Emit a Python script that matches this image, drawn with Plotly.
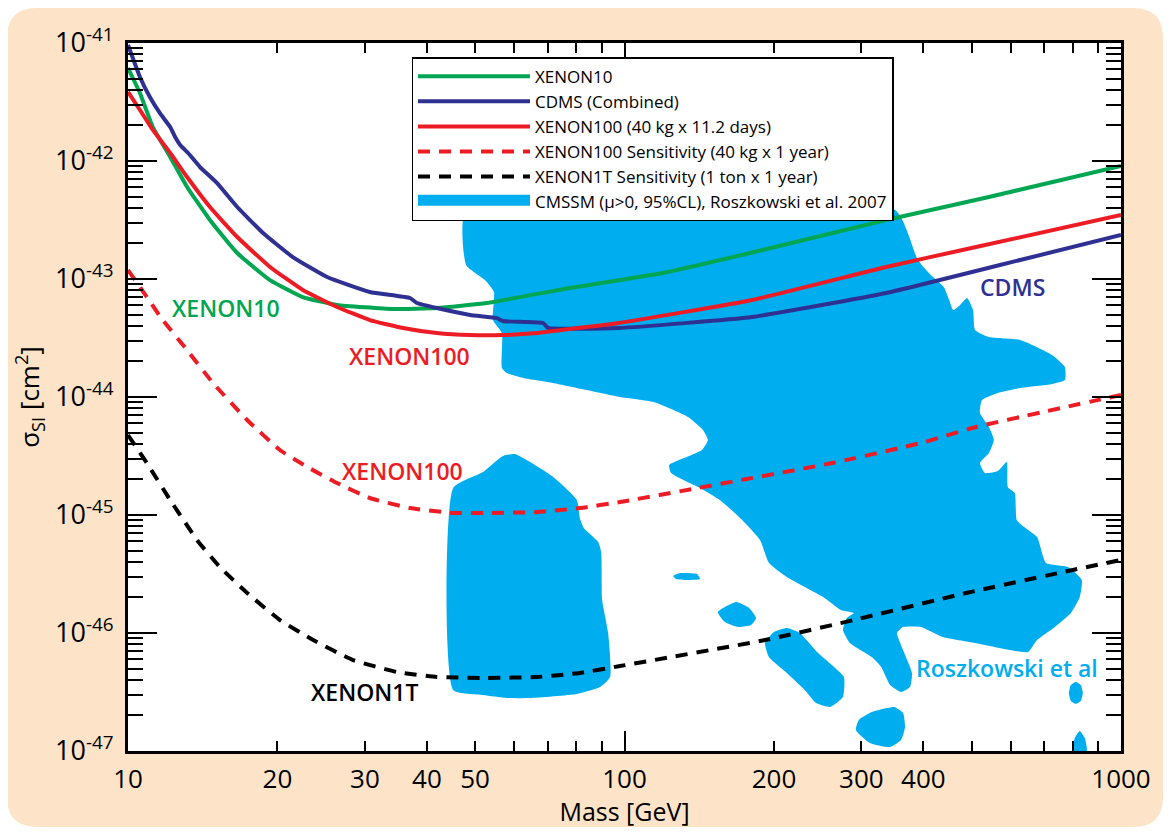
import plotly.graph_objects as go

# ---------------- data: log10(mass/GeV), log10(sigma/cm^2) ----------------
xenon10_lm = [1.000, 1.024, 1.050, 1.085, 1.119, 1.165, 1.220, 1.286, 1.352, 1.421, 1.534, 1.622,
              1.723, 1.890, 2.077, 2.253, 2.527, 2.734, 3.000]
xenon10_ls = [-41.212, -41.424, -41.712, -41.966, -42.220, -42.500, -42.780, -43.009, -43.153, -43.220,
              -43.254, -43.246, -43.203, -43.076, -42.949, -42.780, -42.500, -42.305, -42.042]

cdms_lm = [1.000, 1.024, 1.044, 1.064, 1.085, 1.095, 1.105, 1.121, 1.145, 1.179, 1.220, 1.272, 1.332,
           1.401, 1.487, 1.568, 1.582, 1.622, 1.689, 1.743, 1.755, 1.836, 1.846, 1.989, 2.257, 2.527,
           2.797, 3.000]
cdms_ls = [-41.017, -41.288, -41.458, -41.593, -41.712, -41.797, -41.864, -41.932, -42.051, -42.186,
           -42.390, -42.610, -42.814, -42.983, -43.110, -43.161, -43.203, -43.246, -43.305, -43.331,
           -43.356, -43.373, -43.415, -43.415, -43.322, -43.119, -42.839, -42.627]

xenon100_lm = [1.000, 1.024, 1.050, 1.085, 1.119, 1.165, 1.220, 1.286, 1.352, 1.421, 1.487, 1.554,
               1.622, 1.689, 1.755, 1.824, 1.890, 1.989, 2.257, 2.527, 2.708, 3.000]
xenon100_ls = [-41.415, -41.568, -41.737, -41.932, -42.136, -42.390, -42.644, -42.898, -43.093, -43.237,
               -43.348, -43.415, -43.458, -43.475, -43.475, -43.458, -43.424, -43.373, -43.178, -42.898,
               -42.729, -42.458]

x100sens_lm = [1.000, 1.038, 1.070, 1.119, 1.171, 1.240, 1.306, 1.361, 1.421, 1.487, 1.568, 1.655,
               1.723, 1.824, 1.910, 1.991, 2.148, 2.418, 2.597, 2.708, 3.000]
x100sens_ls = [-42.924, -43.153, -43.348, -43.602, -43.881, -44.195, -44.449, -44.593, -44.729, -44.856,
               -44.941, -44.983, -44.983, -44.975, -44.941, -44.890, -44.771, -44.560, -44.390, -44.254,
               -43.983]

x1t_lm = [1.000, 1.038, 1.085, 1.139, 1.185, 1.240, 1.306, 1.373, 1.453, 1.542, 1.622, 1.723, 1.824,
          1.910, 1.991, 2.283, 2.462, 2.688, 2.903, 3.000]
x1t_ls = [-44.322, -44.560, -44.873, -45.212, -45.441, -45.661, -45.890, -46.060, -46.229, -46.331,
          -46.373, -46.381, -46.373, -46.339, -46.280, -46.060, -45.890, -45.661, -45.466, -45.381]

# CMSSM (Roszkowski et al. 2007) 95% CL regions
cmssm_main_lm = [1.681, 2.545, 2.591, 2.617, 2.643, 2.654, 2.662, 2.676, 2.690, 2.702, 2.706, 2.734,
                 2.797, 2.861, 2.887, 2.887, 2.861, 2.797, 2.752, 2.720, 2.716, 2.734, 2.744, 2.734,
                 2.716, 2.726, 2.752, 2.770, 2.772, 2.786, 2.790, 2.805, 2.831, 2.849, 2.893, 2.921,
                 2.917, 2.899, 2.867, 2.831, 2.813, 2.776, 2.706, 2.641, 2.597, 2.561, 2.549, 2.579,
                 2.575, 2.557, 2.535, 2.517, 2.498, 2.454, 2.440, 2.448, 2.462, 2.436, 2.400, 2.327,
                 2.291, 2.273, 2.237, 2.192, 2.148, 2.094, 2.090, 2.120, 2.156, 2.168, 2.158, 2.128,
                 2.059, 1.991, 1.924, 1.856, 1.796, 1.763, 1.753, 1.753, 1.735, 1.737, 1.719, 1.681]
cmssm_main_ls = [-42.415, -42.415, -42.839, -42.966, -43.068, -43.178, -43.263, -43.220, -43.161,
                 -43.263, -43.432, -43.492, -43.517, -43.644, -43.746, -43.856, -43.890, -43.924,
                 -43.966, -44.026, -44.136, -44.254, -44.365, -44.475, -44.560, -44.644, -44.627,
                 -44.551, -44.763, -44.814, -45.042, -45.102, -45.187, -45.407, -45.441, -45.551,
                 -45.695, -45.831, -45.949, -46.060, -46.161, -46.144, -46.085, -46.034, -45.949,
                 -45.949, -46.000, -46.339, -46.458, -46.500, -46.441, -46.288, -46.204, -46.085,
                 -45.975, -45.873, -45.831, -45.805, -45.695, -45.525, -45.407, -45.212, -45.042,
                 -44.873, -44.763, -44.644, -44.576, -44.517, -44.449, -44.365, -44.280, -44.170,
                 -44.043, -44.000, -43.941, -43.881, -43.839, -43.797, -43.754, -43.458, -43.348,
                 -43.110, -43.009, -42.881]

cmssm_low_lm = [1.655, 1.715, 1.755, 1.779, 1.854, 1.904, 1.910, 1.918, 1.947, 1.953, 1.955, 1.967,
                1.971, 1.951, 1.904, 1.810, 1.763, 1.715, 1.655]
cmssm_low_ls = [-44.771, -44.636, -44.500, -44.483, -44.670, -44.873, -45.025, -45.110, -45.229,
                -45.314, -45.720, -46.000, -46.373, -46.458, -46.517, -46.551, -46.551, -46.526, -46.483]

cmssm_dot_lm = [2.098, 2.112, 2.146, 2.152, 2.122, 2.104]
cmssm_dot_ls = [-45.517, -45.492, -45.500, -45.543, -45.551, -45.543]

cmssm_isl1_lm = [2.188, 2.225, 2.251, 2.265, 2.255, 2.229, 2.202]
cmssm_isl1_ls = [-45.822, -45.737, -45.788, -45.873, -45.932, -45.949, -45.907]

cmssm_isl2_lm = [2.283, 2.301, 2.327, 2.353, 2.390, 2.422, 2.442, 2.440, 2.414, 2.386, 2.363, 2.327, 2.291]
cmssm_isl2_ls = [-46.085, -45.992, -45.958, -46.000, -46.170, -46.288, -46.373, -46.543, -46.627,
                 -46.594, -46.483, -46.339, -46.204]

cmssm_isl3_lm = [2.472, 2.498, 2.543, 2.561, 2.565, 2.557, 2.535, 2.494, 2.466]
cmssm_isl3_ls = [-46.737, -46.670, -46.627, -46.678, -46.797, -46.907, -46.966, -46.932, -46.822]

cmssm_isl4_lm = [2.909, 2.919, 2.923, 2.919, 2.909, 2.899, 2.895, 2.899]
cmssm_isl4_ls = [-46.415, -46.441, -46.509, -46.577, -46.602, -46.577, -46.509, -46.441]

cmssm_isl5_lm = [2.903, 2.907, 2.917, 2.927, 2.931]
cmssm_isl5_ls = [-47.000, -46.890, -46.831, -46.890, -47.000]

x_tick_vals = [10, 20, 30, 40, 50, 100, 200, 300, 400, 1000]
x_tick_text = ["10", "20", "30", "40", "50", "100", "200", "300", "400", "1000"]
y_tick_exps = [-41, -42, -43, -44, -45, -46, -47]

# ---------------- styles ----------------
GREEN = "#00a651"
NAVY = "#2e3192"
RED = "#ed1c24"
CYAN = "#00aeef"
PEACH = "#fde4c8"
FONT = "Open Sans"


def p10(vals):
    return [10 ** v for v in vals]


fig = go.Figure()

regions = [
    (cmssm_main_lm, cmssm_main_ls), (cmssm_low_lm, cmssm_low_ls), (cmssm_dot_lm, cmssm_dot_ls),
    (cmssm_isl1_lm, cmssm_isl1_ls), (cmssm_isl2_lm, cmssm_isl2_ls), (cmssm_isl3_lm, cmssm_isl3_ls),
    (cmssm_isl4_lm, cmssm_isl4_ls), (cmssm_isl5_lm, cmssm_isl5_ls),
]
for i, (lm, ls) in enumerate(regions):
    fig.add_trace(go.Scatter(
        x=p10(lm + lm[:1]), y=p10(ls + ls[:1]), mode="lines", fill="toself",
        fillcolor=CYAN, line=dict(width=0, color=CYAN, shape="spline", smoothing=0.5),
        name="CMSSM (\u03bc>0, 95%CL), Roszkowski et al. 2007", legendgroup="cmssm",
        showlegend=False, hoverinfo="skip"))

# legend entry for the CMSSM region (a filled box, as in the original legend)
fig.add_trace(go.Scatter(
    x=[None], y=[None], mode="lines", fill="toself", fillcolor=CYAN,
    line=dict(width=19, color=CYAN), legendgroup="cmssm",
    name="CMSSM (\u03bc>0, 95%CL), Roszkowski et al. 2007", legendrank=6))

curves = [
    (x1t_lm, x1t_ls, "black", "12px,9px", "XENON1T Sensitivity (1 ton x 1 year)", 5, "g5"),
    (x100sens_lm, x100sens_ls, RED, "12px,9px", "XENON100 Sensitivity (40 kg x 1 year)", 4, "g4"),
    (xenon10_lm, xenon10_ls, GREEN, "solid", "XENON10", 1, "g1"),
    (cdms_lm, cdms_ls, NAVY, "solid", "CDMS (Combined)", 2, "g2"),
    (xenon100_lm, xenon100_ls, RED, "solid", "XENON100 (40 kg x 11.2 days)", 3, "g3"),
]
for lm, ls, col, dash, name, rank, grp in curves:
    fig.add_trace(go.Scatter(
        x=p10(lm), y=p10(ls), mode="lines", name=name, legendrank=rank, legendgroup=grp,
        line=dict(color=col, width=4, dash=dash, shape="spline", smoothing=0.4)))

# helper trace for the overlay axis carrying the long decade ticks
fig.add_trace(go.Scatter(x=[10, 1000], y=[1e-47, 1e-47], xaxis="x2", mode="lines",
                         line=dict(width=0), showlegend=False, hoverinfo="skip"))

minor_x = [m * d for d in (10, 100) for m in range(2, 10)]
minor_y = [m * 10.0 ** e for e in range(-47, -41) for m in range(2, 10)]

fig.update_layout(
    width=1156, height=820,
    margin=dict(l=120, r=43, t=35, b=77, autoexpand=False),
    paper_bgcolor="white", plot_bgcolor="white",
    font=dict(family=FONT, color="black"),
    showlegend=True,
    legend=dict(x=0.2855, y=0.980, xanchor="left", yanchor="top", bgcolor="white",
                bordercolor="black", borderwidth=1.5, font=dict(size=17, family=FONT),
                itemwidth=112, tracegroupgap=0, traceorder="grouped"),
    xaxis=dict(type="log", range=[1, 3], showgrid=False, zeroline=False,
               showline=True, linewidth=3, linecolor="black", mirror="ticks",
               ticks="inside", ticklen=10, tickwidth=2, tickcolor="black",
               tickvals=x_tick_vals, ticktext=x_tick_text, tickfont=dict(size=26),
               ticklabelstandoff=3,
               minor=dict(ticks="inside", ticklen=10, tickwidth=2, tickcolor="black",
                          tickvals=minor_x, showgrid=False),
               title=dict(text="Mass [GeV]", font=dict(size=25), standoff=9)),
    xaxis2=dict(type="log", range=[1, 3], overlaying="x", anchor="y", side="bottom",
                showgrid=False, zeroline=False, showline=False, mirror="ticks",
                ticks="inside", ticklen=20, tickwidth=2, tickcolor="black",
                tickvals=[10, 100, 1000], showticklabels=False),
    yaxis=dict(type="log", range=[-47, -41], showgrid=False, zeroline=False,
               showline=True, linewidth=3, linecolor="black", mirror="ticks",
               ticks="inside", ticklen=29, tickwidth=2, tickcolor="black",
               tickvals=[10.0 ** e for e in y_tick_exps],
               ticktext=["10<sup>%d</sup>" % e for e in y_tick_exps],
               tickfont=dict(size=27), ticklabelstandoff=6,
               minor=dict(ticks="inside", ticklen=15, tickwidth=2, tickcolor="black",
                          tickvals=minor_y, showgrid=False),
               title=dict(text="\u03c3<sub>SI</sub> [cm<sup>2</sup>]", font=dict(size=26), standoff=8)),
)

# rounded peach frame + white plot area
x0, x1, y0, y1 = -0.1219, 1.0423, -0.1073, 1.0494
rx, ry = 0.0302, 0.0424
path = (f"M{x0+rx},{y1} L{x1-rx},{y1} Q{x1},{y1} {x1},{y1-ry} L{x1},{y0+ry} "
        f"Q{x1},{y0} {x1-rx},{y0} L{x0+rx},{y0} Q{x0},{y0} {x0},{y0+ry} "
        f"L{x0},{y1-ry} Q{x0},{y1} {x0+rx},{y1} Z")
fig.add_shape(type="path", path=path, xref="paper", yref="paper", layer="below",
              fillcolor=PEACH, line=dict(width=0))
fig.add_shape(type="rect", x0=0, x1=1, y0=0, y1=1, xref="paper", yref="paper", layer="below",
              fillcolor="white", line=dict(width=0))

labels = [
    ("XENON10", 1.197, -43.246, GREEN),
    ("XENON100", 1.566, -43.653, RED),
    ("XENON100", 1.552, -44.627, RED),
    ("XENON1T", 1.477, -46.500, "black"),
    ("CDMS", 2.782, -43.068, NAVY),
    ("Roszkowski et al", 2.770, -46.297, CYAN),
]
for txt, lx, ly, col in labels:
    fig.add_annotation(x=lx, y=ly, xref="x", yref="y", text=txt, showarrow=False,
                       font=dict(size=23, color=col, family=FONT, weight=600))

fig.write_html("out.html")
